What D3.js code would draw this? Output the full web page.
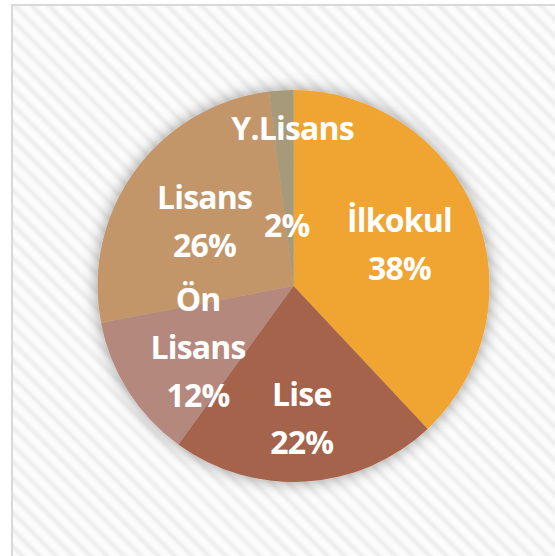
<!DOCTYPE html>
<html>
<head>
<meta charset="utf-8">
<script src="https://cdn.jsdelivr.net/npm/d3@7.8.5/dist/d3.min.js"></script>
<style>
  html, body { margin: 0; padding: 0; background: #fff; }
  svg { display: block; }
</style>
</head>
<body>
<div id="chart"></div>
<script>
// data
const categories = ["İlkokul", "Lise", "Ön Lisans", "Lisans", "Y.Lisans"]
const values = [38, 22, 12, 26, 2]
const colors = ["#F0A432", "#A5634B", "#B5887D", "#C3966B", "#A69A7A"]

const width = 555, height = 556
const cx = 293.5, cy = 286, radius = 196
const fontSize = 32, lineGap = 48, capHalf = 12

// label placement (like the "best fit" labels)
const labelRadius = {"İlkokul": 114, "Lise": 132, "Ön Lisans": 113, "Lisans": 110, "Y.Lisans": 61}
const labelLines = {"Ön Lisans": ["Ön", "Lisans"]}

const svg = d3.select("#chart").append("svg")
  .attr("width", width)
  .attr("height", height)

const defs = svg.append("defs")

const grad = defs.append("linearGradient")
  .attr("id", "stripeGrad")
  .attr("x1", 0).attr("x2", 1).attr("y1", 0).attr("y2", 0)
grad.selectAll("stop")
  .data([[0, "#fcfcfc"], [0.2, "#fcfcfc"], [0.55, "#ececec"], [0.9, "#fcfcfc"], [1, "#fcfcfc"]])
  .join("stop")
    .attr("offset", d => d[0])
    .attr("stop-color", d => d[1])

const pattern = defs.append("pattern")
  .attr("id", "stripes")
  .attr("patternUnits", "userSpaceOnUse")
  .attr("width", 12).attr("height", 12)
  .attr("patternTransform", "rotate(-45)")
pattern.append("rect")
  .attr("width", 12).attr("height", 12)
  .attr("fill", "url(#stripeGrad)")

const shadow = defs.append("filter")
  .attr("id", "pieShadow")
  .attr("x", "-20%").attr("y", "-20%")
  .attr("width", "140%").attr("height", "140%")
shadow.append("feDropShadow")
  .attr("dx", 0).attr("dy", 0)
  .attr("stdDeviation", 8)
  .attr("flood-color", "#000")
  .attr("flood-opacity", 0.4)

// chart area with border
svg.append("rect")
  .attr("x", 12).attr("y", 5)
  .attr("width", width + 10).attr("height", height + 10)
  .attr("fill", "url(#stripes)")
  .attr("stroke", "#D9D9D9")
  .attr("stroke-width", 2)

const data = categories.map((c, i) => ({category: c, value: values[i], color: colors[i]}))
const total = d3.sum(values)

const pie = d3.pie()
  .sort(null)
  .value(d => d.value)

const arcs = pie(data)
const arc = d3.arc().innerRadius(0).outerRadius(radius)

const g = svg.append("g")
  .attr("transform", `translate(${cx},${cy})`)

g.append("g")
  .attr("filter", "url(#pieShadow)")
  .selectAll("path")
  .data(arcs)
  .join("path")
    .attr("d", arc)
    .attr("fill", d => d.data.color)

const labelG = g.append("g")
  .attr("font-family", "'Open Sans', 'Noto Sans', sans-serif")
  .attr("font-weight", "bold")
  .attr("font-size", fontSize)
  .attr("letter-spacing", -0.8)
  .attr("fill", "#fff")
  .attr("text-anchor", "middle")

const pct = d => d3.format(".0%")(d.data.value / total)

for (const a of arcs) {
  const name = a.data.category
  const r = labelRadius[name]
  const [x, y] = d3.arc().innerRadius(r).outerRadius(r).centroid(a)

  if (name === "Y.Lisans") {
    // name sits near the rim, percentage further in
    const r2 = 158
    const [nx, ny] = d3.arc().innerRadius(r2).outerRadius(r2).centroid(a)
    labelG.append("text")
      .attr("x", nx + 9).attr("y", ny + capHalf)
      .text(name)
    labelG.append("text")
      .attr("x", x - 3).attr("y", y + capHalf)
      .text(pct(a))
    continue
  }

  const lines = (labelLines[name] || [name]).concat([pct(a)])
  const y0 = y - (lines.length - 1) * lineGap / 2 + capHalf
  const text = labelG.append("text")
  lines.forEach((line, i) => {
    text.append("tspan")
      .attr("x", x)
      .attr("y", y0 + i * lineGap)
      .text(line)
  })
}
</script>
</body>
</html>
